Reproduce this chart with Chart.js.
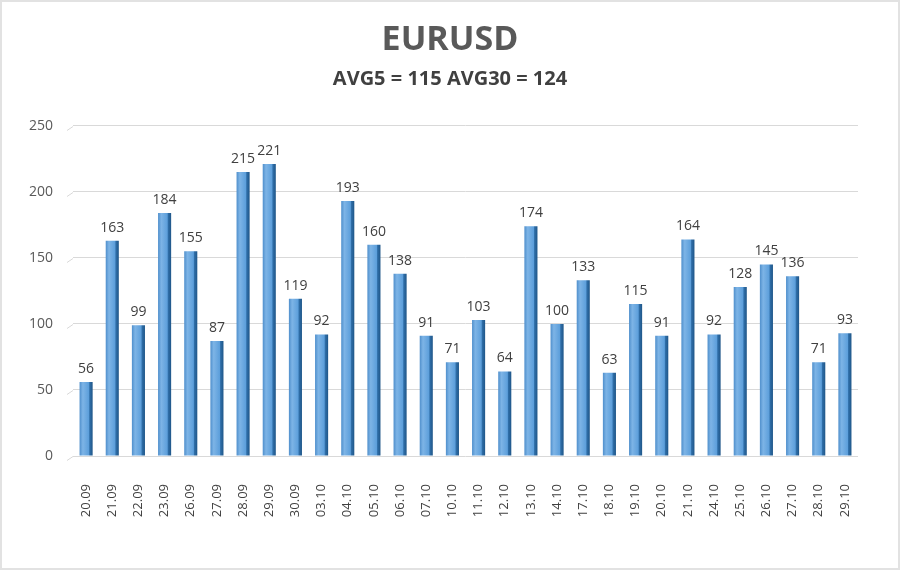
<!DOCTYPE html>
<html>
<head>
<meta charset="utf-8">
<script src="https://cdn.jsdelivr.net/npm/chart.js@4.4.0/dist/chart.umd.min.js"></script>
<style>
  html, body { margin: 0; padding: 0; background: #fff; }
  #wrap { width: 900px; height: 570px; box-sizing: border-box; border: 2px solid #e2e2e2; position: relative; }
  canvas { display: block; }
</style>
</head>
<body>
<div id="wrap"><canvas id="barChart" width="896" height="566"></canvas></div>
<script>
const fechas = ['20.09', '21.09', '22.09', '23.09', '26.09', '27.09', '28.09', '29.09', '30.09', '03.10',
  '04.10', '05.10', '06.10', '07.10', '10.10', '11.10', '12.10', '13.10', '14.10', '17.10',
  '18.10', '19.10', '20.10', '21.10', '24.10', '25.10', '26.10', '27.10', '28.10', '29.10'];
const valores = [56, 163, 99, 184, 155, 87, 215, 221, 119, 92,
  193, 160, 138, 91, 71, 103, 64, 174, 100, 133,
  63, 115, 91, 164, 92, 128, 145, 136, 71, 93];
const titulo = 'EURUSD';
const subtitulo = 'AVG5 = 115 AVG30 = 124';
const ticksY = [0, 50, 100, 150, 200, 250];

const fuente = "'Open Sans', 'DejaVu Sans', sans-serif";
const anchoBarra = 0.5;

// degradado horizontal para cada barra
function colorBarra(context) {
  const chart = context.chart;
  const area = chart.chartArea;
  if (!area) return '#5b9bd5';
  const x = chart.scales.x;
  const centro = x.getPixelForValue(context.dataIndex);
  const w = (x.width / fechas.length) * anchoBarra;
  const g = chart.ctx.createLinearGradient(centro - w / 2, 0, centro + w / 2, 0);
  g.addColorStop(0, '#4f8fcc');
  g.addColorStop(0.25, '#7db4e6');
  g.addColorStop(0.7, '#5d9fdb');
  g.addColorStop(0.78, '#2f6ea8');
  g.addColorStop(1, '#1f5688');
  return g;
}

// valores encima de las barras + pequeño trazo en diagonal de la rejilla
const etiquetas = {
  id: 'etiquetas',
  beforeDatasetsDraw(chart) {
    const ctx = chart.ctx;
    const y = chart.scales.y;
    const left = chart.chartArea.left;
    ctx.save();
    ctx.strokeStyle = '#d9d9d9';
    ctx.lineWidth = 1;
    ticksY.forEach(v => {
      const py = Math.round(y.getPixelForValue(v)) + 0.5;
      ctx.beginPath();
      ctx.moveTo(left - 6, py + 4);
      ctx.lineTo(left, py);
      ctx.stroke();
    });
    ctx.restore();
  },
  afterDatasetsDraw(chart) {
    const ctx = chart.ctx;
    const meta = chart.getDatasetMeta(0);
    ctx.save();
    ctx.font = '14px ' + fuente;
    ctx.fillStyle = '#404040';
    ctx.textAlign = 'center';
    ctx.textBaseline = 'bottom';
    meta.data.forEach((bar, i) => {
      ctx.fillText(valores[i], bar.x, bar.y - 6);
    });
    ctx.restore();
  }
};

const chart = new Chart(document.getElementById('barChart').getContext('2d'), {
  type: 'bar',
  data: {
    labels: fechas,
    datasets: [{
      data: valores,
      backgroundColor: colorBarra,
      borderWidth: 0,
      barPercentage: anchoBarra,
      categoryPercentage: 1
    }]
  },
  options: {
    responsive: false,
    animation: false,
    layout: { padding: { left: 7, right: 7, top: 0, bottom: 0 } },
    plugins: {
      legend: { display: false },
      tooltip: { enabled: false },
      title: {
        display: true,
        text: titulo,
        color: '#595959',
        font: { family: fuente, size: 34, weight: 'bold' },
        padding: { top: 18, bottom: 0 }
      },
      subtitle: {
        display: true,
        text: subtitulo,
        color: '#404040',
        font: { family: fuente, size: 20, weight: 'bold' },
        padding: { top: 6, bottom: 35 }
      }
    },
    scales: {
      x: {
        grid: { display: false },
        border: { display: false },
        ticks: {
          color: '#404040',
          font: { family: fuente, size: 13 },
          minRotation: 90,
          maxRotation: 90,
          padding: 20,
          autoSkip: false
        },
        afterFit(scale) { scale.height = 112; }
      },
      y: {
        min: 0,
        max: 250,
        afterBuildTicks(scale) { scale.ticks = ticksY.map(v => ({ value: v })); },
        grid: { color: '#d9d9d9', lineWidth: 1, drawTicks: false },
        border: { display: false },
        ticks: {
          color: '#595959',
          font: { family: fuente, size: 14 },
          padding: 20
        }
      },
      // eje vacío a la derecha, solo para dejar margen y centrar el título
      margen: {
        type: 'linear',
        position: 'right',
        display: true,
        grid: { display: false, drawTicks: false },
        border: { display: false },
        ticks: { display: false },
        afterFit(scale) { scale.width = 33; }
      }
    }
  },
  plugins: [etiquetas]
});
</script>
</body>
</html>
